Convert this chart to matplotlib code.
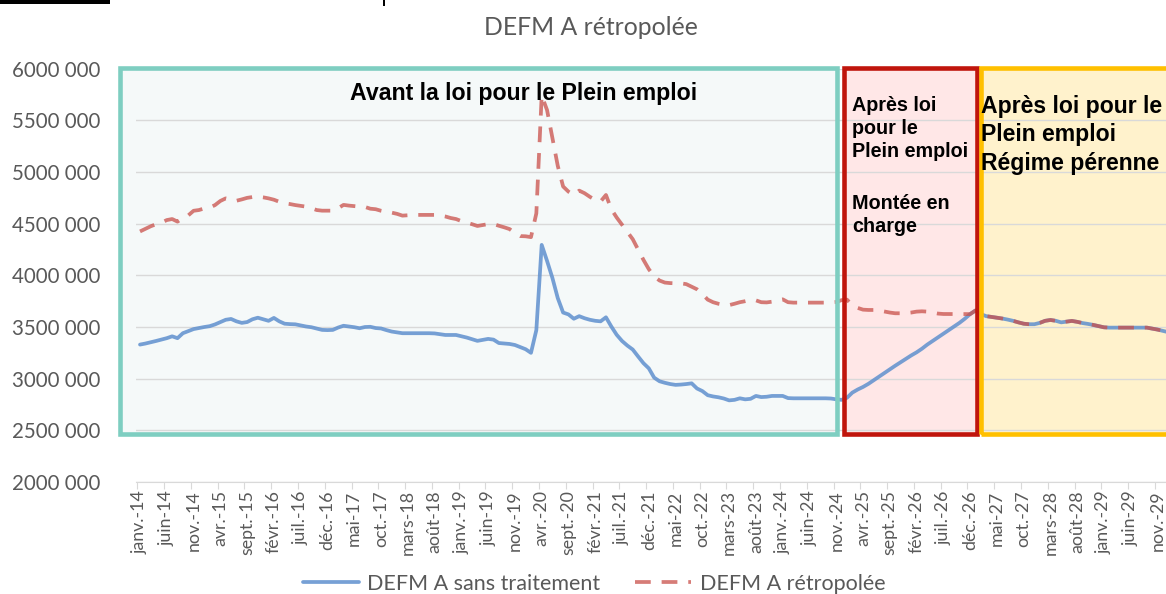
import numpy as np
import matplotlib
matplotlib.use("Agg")
import matplotlib.pyplot as plt
from matplotlib.patches import Rectangle

# monthly values (thousands), janv. 2014 -> janv. 2030
sans_traitement = (
    [3330, 3340, 3352, 3365, 3378, 3392, 3410, 3392, 3440, 3460, 3480, 3490]      # 2014
    + [3500, 3508, 3525, 3548, 3570, 3578, 3555, 3540, 3548, 3575, 3590, 3575]    # 2015
    + [3560, 3588, 3555, 3532, 3528, 3526, 3515, 3505, 3498, 3485, 3472, 3470]    # 2016
    + [3472, 3495, 3512, 3505, 3498, 3488, 3500, 3502, 3490, 3486, 3470, 3456]    # 2017
    + [3448, 3440, 3440, 3440, 3440, 3440, 3440, 3438, 3430, 3423, 3423, 3423]    # 2018
    + [3410, 3398, 3382, 3366, 3375, 3385, 3378, 3345, 3340, 3336, 3326, 3305]    # 2019
    + [3285, 3250, 3470, 4295, 4140, 3975, 3780, 3640, 3622, 3580, 3605, 3585]    # 2020
    + [3570, 3560, 3555, 3594, 3505, 3425, 3365, 3320, 3282, 3215, 3150, 3100]    # 2021
    + [3010, 2975, 2960, 2948, 2940, 2943, 2948, 2955, 2905, 2880, 2840, 2828]    # 2022
    + [2820, 2808, 2790, 2795, 2810, 2800, 2805, 2833, 2822, 2825, 2833, 2833]    # 2023
    + [2833, 2812, 2810, 2810, 2810, 2810, 2810, 2810, 2810, 2808, 2800, 2795]    # 2024
    + [2815, 2865, 2895, 2920, 2950, 2985, 3020, 3055, 3090, 3125, 3158, 3190]    # 2025
    + [3225, 3255, 3290, 3330, 3365, 3400, 3435, 3470, 3505, 3540, 3580, 3625]    # 2026
)

retro_avant = (
    [4425, 4450, 4475, 4495, 4510, 4535, 4545, 4520, 4555, 4580, 4625, 4632]      # 2014
    + [4648, 4655, 4680, 4720, 4745, 4735, 4722, 4735, 4750, 4758, 4762, 4755]    # 2015
    + [4745, 4732, 4712, 4698, 4690, 4680, 4672, 4665, 4650, 4632, 4626, 4626]    # 2016
    + [4626, 4650, 4682, 4675, 4670, 4665, 4662, 4645, 4640, 4625, 4615, 4607]    # 2017
    + [4595, 4578, 4582, 4585, 4585, 4585, 4585, 4585, 4580, 4570, 4555, 4545]    # 2018
    + [4525, 4510, 4495, 4478, 4487, 4496, 4497, 4480, 4465, 4448, 4410, 4380]    # 2019
    + [4378, 4370, 4600, 5740, 5600, 5330, 5060, 4860, 4810, 4778, 4820, 4795]    # 2020
    + [4760, 4730, 4715, 4778, 4640, 4560, 4490, 4420, 4350, 4250, 4150, 4060]    # 2021
    + [3990, 3950, 3930, 3925, 3923, 3923, 3915, 3890, 3865, 3820, 3765, 3740]    # 2022
    + [3725, 3715, 3712, 3725, 3740, 3750, 3762, 3758, 3740, 3738, 3745, 3760]    # 2023
    + [3768, 3740, 3736, 3736, 3736, 3736, 3736, 3736, 3736, 3738, 3742, 3760]    # 2024
    + [3765, 3710, 3685, 3668, 3665, 3665, 3660, 3650, 3640, 3633, 3633, 3635]    # 2025
    + [3640, 3649, 3652, 3649, 3640, 3630, 3626, 3626, 3626, 3626, 3626, 3625]    # 2026
)

# both series are identical from janv. 2027
commun = (
    [3660, 3625, 3605, 3598, 3590, 3582, 3572, 3560, 3545, 3532, 3527, 3527]      # 2027
    + [3540, 3560, 3568, 3560, 3545, 3552, 3559, 3550, 3538, 3530, 3520, 3508]    # 2028
    + [3497, 3494, 3494, 3494, 3494, 3494, 3494, 3494, 3494, 3485, 3475, 3462]    # 2029
    + [3450]                                                                      # 2030
)

mois = ['janv.', 'févr.', 'mars', 'avr.', 'mai', 'juin', 'juil.', 'août',
        'sept.', 'oct.', 'nov.', 'déc.']

blue = np.array(sans_traitement + commun) * 1000
red = np.array(retro_avant + commun) * 1000
x = np.arange(len(blue))

W, H = 1166, 594
fig = plt.figure(figsize=(W / 100, H / 100), dpi=100)
ax = fig.add_axes([136 / W, 1 - 482 / H, (W - 136) / W, (482 - 68.7) / H])

grey = '#595959'
font = 'Lato'

# period boxes (months, from janv. 2014 = 0)
y0, y1 = 2469000, 6003000
boxes = [(-3.7, 130.2, '#F5F9F9', '#7ECEC1'),
         (131.4, 156.2, '#FFE7E7', '#C0150C'),
         (157.0, 200.0, '#FFF2CC', '#FFC000')]
for a, b, fc, ec in boxes:
    ax.add_patch(Rectangle((a, y0), b - a, y1 - y0, facecolor=fc, edgecolor='none',
                           zorder=0.2, clip_on=False))
    ax.add_patch(Rectangle((a, y0), b - a, y1 - y0, facecolor='none', edgecolor=ec,
                           lw=3.3, zorder=4, clip_on=False))

ax.plot(x, blue, color='#5F90CE', lw=2.7, alpha=0.85, zorder=2,
        label='DEFM A sans traitement', solid_capstyle='round')
ax.plot(x, red, color='#C9504A', lw=2.7, alpha=0.75, zorder=3,
        dashes=(4.2, 2.9), label='DEFM A rétropolée')

ax.set_xlim(-0.75, 191.57)
ax.set_ylim(2000000, 6000000)

yt = np.arange(2000000, 6000001, 500000)
ax.set_yticks(yt)
ax.set_yticklabels([f"{v // 1000} 000" for v in yt], fontsize=14.8,
                   color=grey, family=font)
ax.tick_params(axis='y', length=0, pad=26)
ax.yaxis.grid(True, color='#D9D9D9', lw=1)
ax.set_axisbelow(True)

lab_pos = np.arange(0, len(blue) - 1, 5)
ax.set_xticks(lab_pos - 0.5)
ax.set_xticklabels([])
ax.set_xticks(lab_pos, minor=True)
ax.set_xticklabels([f"{mois[k % 12]}-{14 + k // 12}" for k in lab_pos], minor=True,
                   rotation=90, fontsize=12.8, color=grey, family=font)
ax.tick_params(axis='x', which='major', length=5, color='#D9D9D9')
ax.tick_params(axis='x', which='minor', length=0, pad=6)

for s in ['top', 'right', 'left']:
    ax.spines[s].set_visible(False)
ax.spines['bottom'].set_color('#D9D9D9')

fig.text(591 / W, 1 - 35 / H, 'DEFM A rétropolée', ha='center', va='baseline',
         fontsize=17.8, color=grey, family=font)

bold = dict(fontweight='bold', family='Liberation Sans', color='black', zorder=5)
fig.text(523.5 / W, 1 - 100 / H, 'Avant la loi pour le Plein emploi', ha='center',
         va='baseline', fontsize=16.7, **bold)
fig.text(852 / W, 1 - 96 / H, 'Après loi\npour le\nPlein emploi',
         ha='left', va='top', fontsize=14.2, linespacing=1.28, **bold)
fig.text(852 / W, 1 - 194 / H, 'Montée en\ncharge',
         ha='left', va='top', fontsize=14.2, linespacing=1.28, **bold)
fig.text(981 / W, 1 - 95 / H, 'Après loi pour le\nPlein emploi\nRégime pérenne',
         ha='left', va='top', fontsize=16.6, linespacing=1.3, **bold)

fig.legend(loc='center', bbox_to_anchor=(594 / W, 1 - 584 / H), ncol=2, frameon=False,
           handlelength=2.6, columnspacing=1.6, handletextpad=0.4,
           prop={'family': font, 'size': 15.5}, labelcolor=grey)

# cropped remains of the page above the chart
fig.add_artist(Rectangle((0, 1 - 4 / H), 110 / W, 4 / H, transform=fig.transFigure,
                         color='black', lw=0))
fig.add_artist(Rectangle((383 / W, 1 - 6 / H), 2 / W, 6 / H, transform=fig.transFigure,
                         color='black', lw=0))

fig.savefig('out.png', dpi=100)
